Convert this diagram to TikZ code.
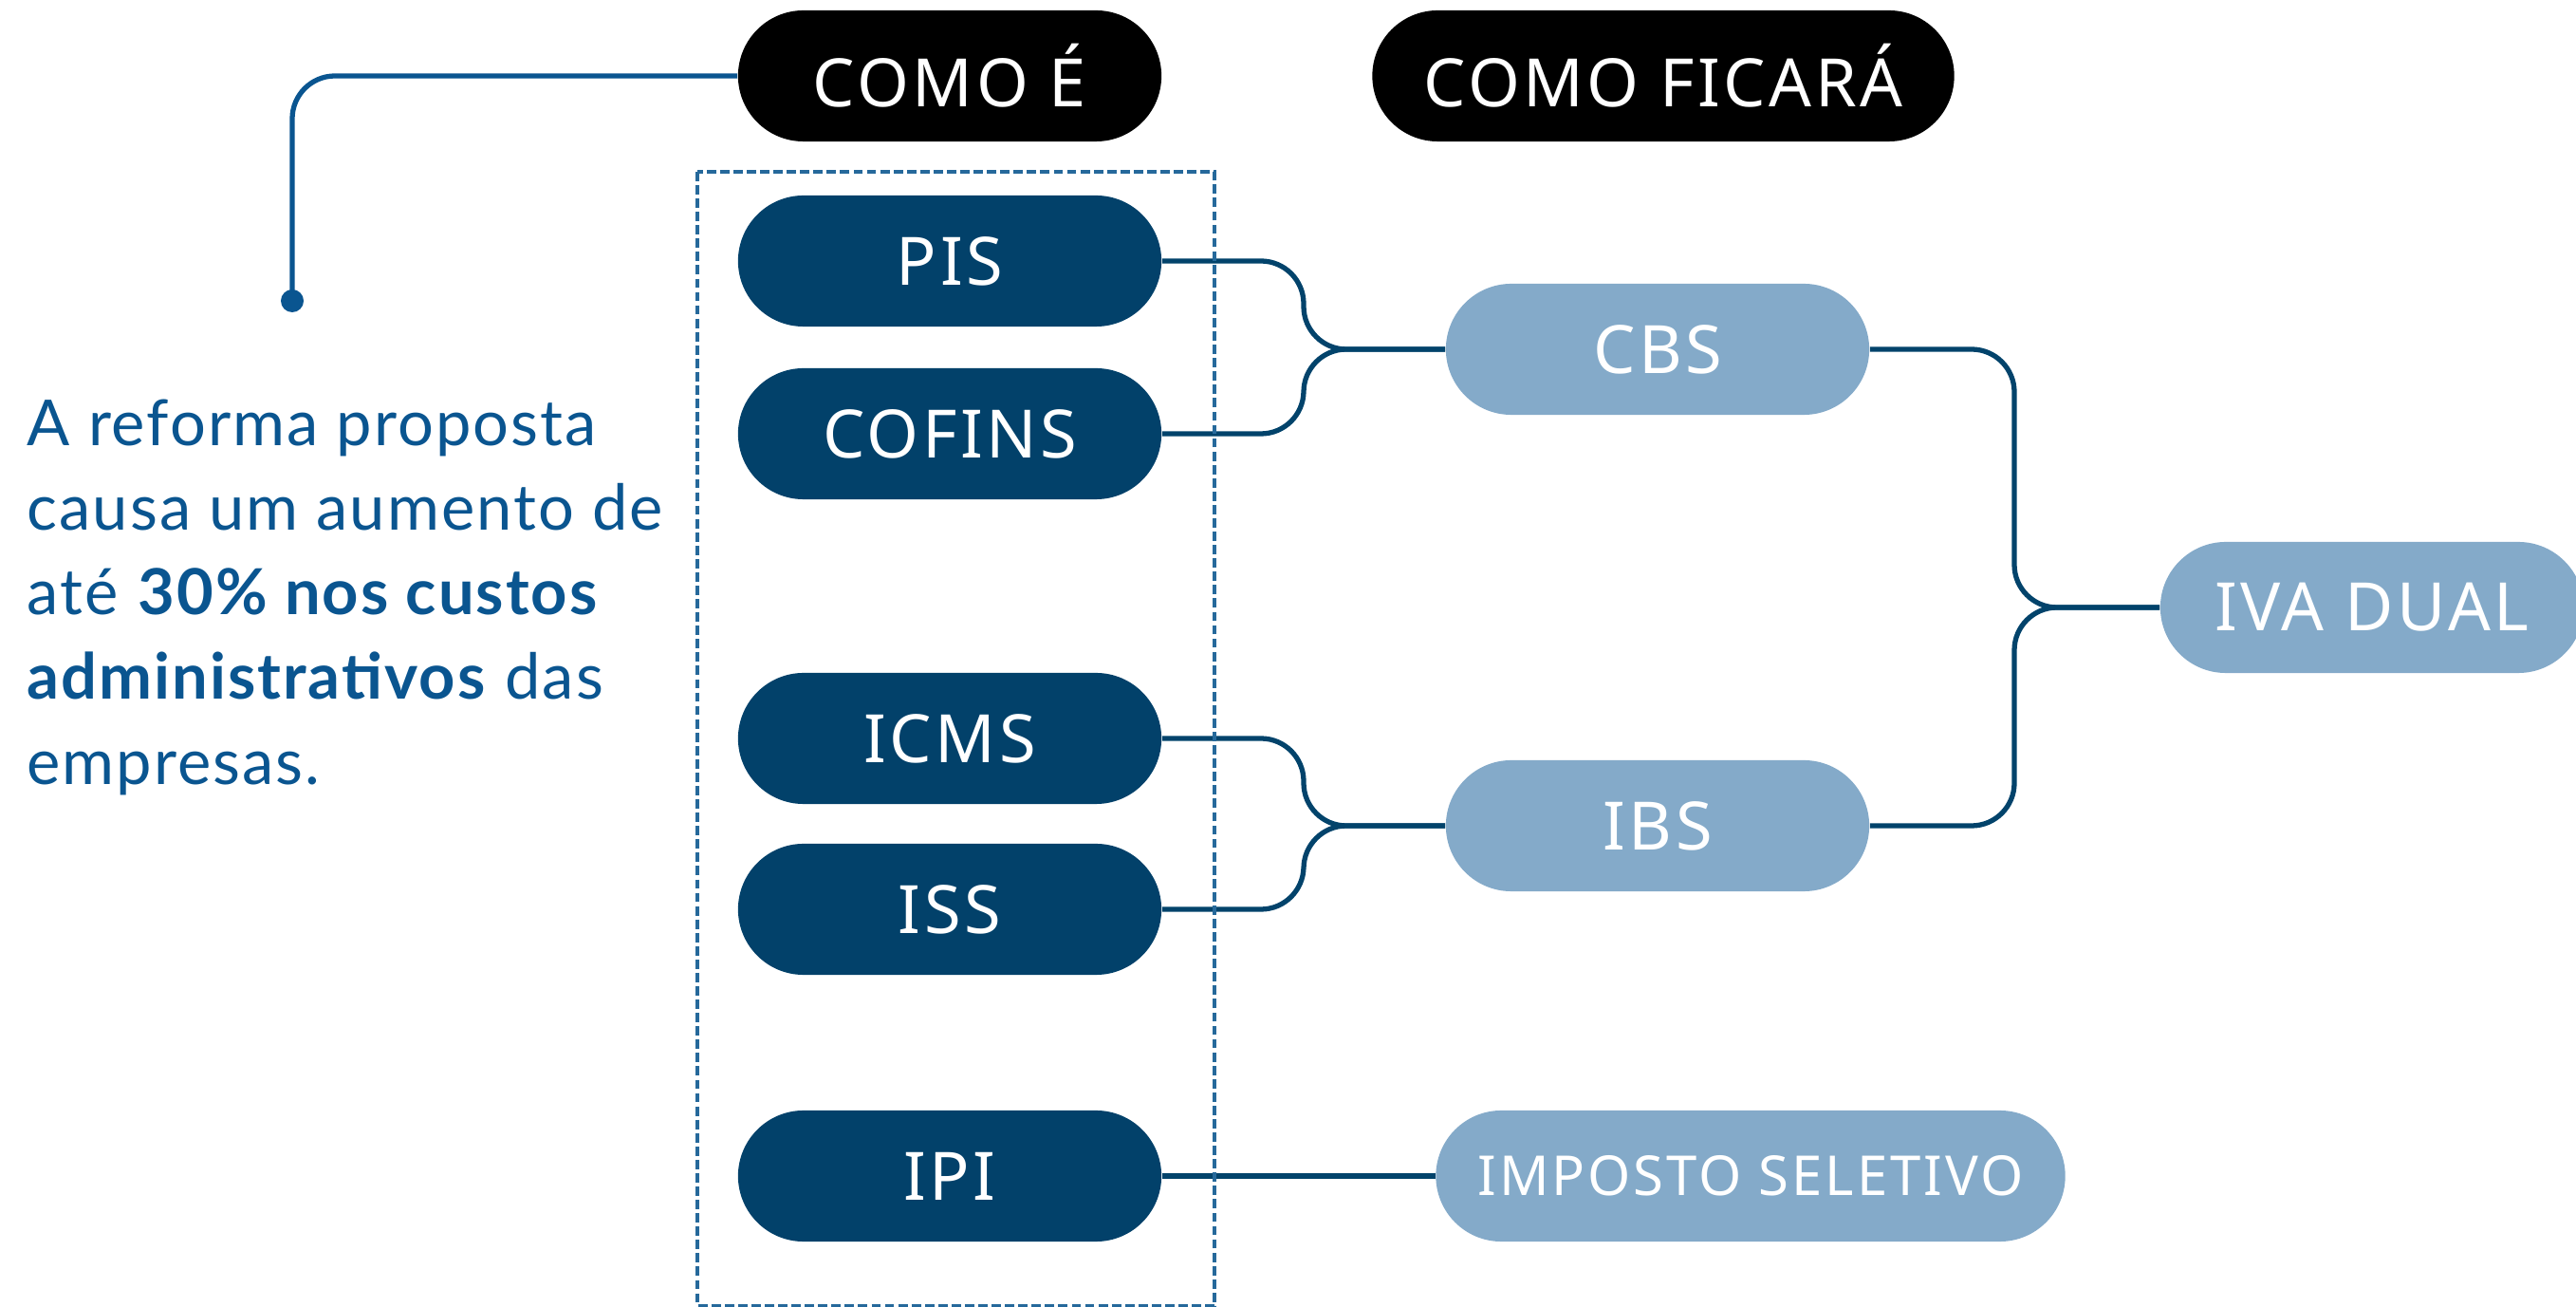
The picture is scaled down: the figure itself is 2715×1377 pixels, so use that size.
\documentclass[tikz,border=0pt]{standalone}
\usepackage{fontspec}
\setmainfont[LetterSpace=3]{Lato}
\newfontfamily\pillfam[LetterSpace=5]{Noto Sans}
\newcommand\pillfont{\pillfam\fontsize{20}{24}\selectfont}
\newcommand\smallpillfont{\pillfam\fontsize{16.5}{20}\selectfont}
\newcommand\parafont{\fontsize{19}{25}\selectfont}
\definecolor{darkblue}{HTML}{02416A}
\definecolor{lightblue}{HTML}{84AAC9}
\definecolor{connblue}{HTML}{02436B}
\definecolor{textblue}{HTML}{0A5590}
\definecolor{dashblue}{HTML}{26699B}
\begin{document}
\begin{tikzpicture}[x=0.01cm,y=-0.01cm,
  pill/.style={rectangle, rounded corners=0.69cm, minimum height=1.38cm,
    minimum width=4.46cm, inner sep=0pt, text=white, font=\pillfont},
  darkpill/.style={pill, fill=darkblue},
  lightpill/.style={pill, fill=lightblue},
  blackpill/.style={pill, fill=black},
  conn/.style={draw=connblue, line width=1.5pt, rounded corners=0.45cm},
  leftline/.style={draw=textblue, line width=1.5pt, rounded corners=0.45cm},
  dashbox/.style={draw=dashblue, line width=1.2pt, dash pattern=on 2.8pt off 1.2pt},
  para/.style={anchor=base west, inner sep=0pt, text=textblue, font=\parafont}]
\useasboundingbox (0,0) rectangle (2715,1377);

% header pills
\node[blackpill] (comoe) at (1001,80) {COMO É};
\node[blackpill, minimum width=6.13cm] (comofic) at (1753,80) {COMO FICARÁ};

% current taxes
\node[darkpill] (pis) at (1001,275) {PIS};
\node[darkpill] (cofins) at (1001,457) {COFINS};
\node[darkpill] (icms) at (1001,778) {ICMS};
\node[darkpill] (iss) at (1001,958) {ISS};
\node[darkpill] (ipi) at (1001,1239) {IPI};

% new taxes
\node[lightpill] (cbs) at (1747,368) {CBS};
\node[lightpill] (ibs) at (1747,870) {IBS};
\node[lightpill] (iva) at (2500,640) {IVA DUAL};
\node[lightpill, minimum width=6.63cm, font=\smallpillfont] (imp) at (1845,1239) {IMPOSTO SELETIVO};

% junctions
\coordinate (j1) at (1374,368);
\coordinate (j3) at (1374,870);
\coordinate (j2) at (2123,640);
\coordinate (dot) at (308,317);

% connectors
\draw[conn] (pis.east) -| (j1) -- (cbs.west);
\draw[conn] (cofins.east) -| (j1) -- (cbs.west);
\draw[conn] (icms.east) -| (j3) -- (ibs.west);
\draw[conn] (iss.east) -| (j3) -- (ibs.west);
\draw[conn] (cbs.east) -| (j2) -- (iva.west);
\draw[conn] (ibs.east) -| (j2) -- (iva.west);
\draw[conn] (ipi.east) -- (imp.west);

% dashed frame
\draw[dashbox] (735,181) rectangle (1280,1376);

% left callout
\draw[leftline] (comoe.west) -| (dot);
\fill[textblue] (dot) circle (0.12cm);

\node[para] (t1) at (28,470) {A reforma proposta};
\node[para] (t2) at (28,559) {causa um aumento de};
\node[para] (t3) at (28,648) {até \textbf{30\% nos custos}};
\node[para] (t4) at (28,737) {\textbf{administrativos} das};
\node[para] (t5) at (28,827) {empresas.};
\end{tikzpicture}
\end{document}
